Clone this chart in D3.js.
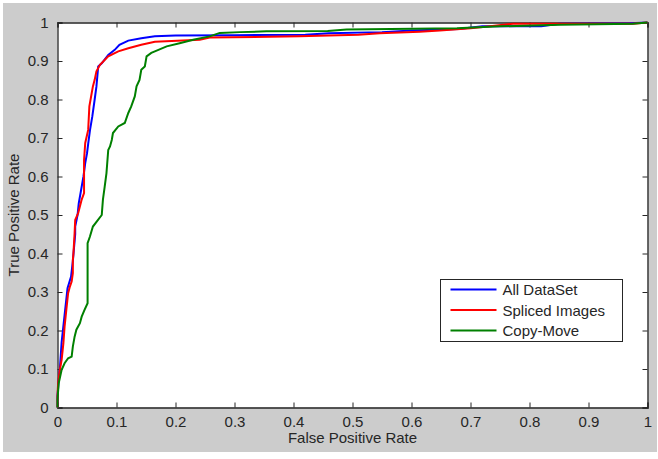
<!DOCTYPE html>
<html>
<head>
<meta charset="utf-8">
<script src="https://cdn.jsdelivr.net/npm/d3@7"></script>
<style>
  body { margin: 0; background: #fff; }
  text { font-family: "Liberation Sans", Arial, sans-serif; fill: #262626; }
</style>
</head>
<body>
<div id="chart"></div>
<script>
// ROC curves, [false positive rate, true positive rate]
const allDataSet = [[0,0],[0,0.03],[0.002,0.07],[0.004,0.1],[0.007,0.17],[0.012,0.24],[0.017,0.31],[0.023,0.34],
  [0.026,0.38],[0.03,0.45],[0.03,0.47],[0.034,0.5],[0.036,0.53],[0.04,0.565],[0.044,0.6],[0.047,0.635],[0.05,0.66],
  [0.052,0.685],[0.055,0.72],[0.059,0.756],[0.063,0.8],[0.066,0.834],[0.069,0.886],[0.075,0.894],[0.086,0.916],
  [0.097,0.929],[0.105,0.942],[0.12,0.953],[0.142,0.959],[0.165,0.964],[0.2,0.966],[0.3,0.967],[0.42,0.968],
  [0.46,0.972],[0.55,0.975],[0.6,0.979],[0.68,0.983],[0.72,0.99],[0.82,0.99],[0.85,0.997],[0.97,0.998],[1,1]];

const splicedImages = [[0,0],[0,0.03],[0.001,0.063],[0.004,0.098],[0.007,0.124],[0.01,0.167],[0.012,0.21],[0.015,0.254],
  [0.018,0.297],[0.021,0.314],[0.024,0.327],[0.026,0.349],[0.026,0.383],[0.027,0.4],[0.029,0.453],[0.03,0.487],
  [0.035,0.505],[0.041,0.54],[0.045,0.557],[0.045,0.643],[0.047,0.687],[0.052,0.721],[0.054,0.782],[0.058,0.817],
  [0.06,0.834],[0.063,0.851],[0.066,0.873],[0.072,0.89],[0.086,0.912],[0.103,0.925],[0.12,0.933],[0.142,0.942],
  [0.165,0.95],[0.241,0.955],[0.258,0.961],[0.41,0.964],[0.51,0.968],[0.546,0.972],[0.614,0.976],[0.648,0.979],
  [0.7,0.985],[0.733,0.99],[0.772,0.997],[0.975,0.997],[1,1]];

const copyMove = [[0,0],[0,0.02],[0.002,0.063],[0.007,0.098],[0.012,0.115],[0.018,0.128],[0.024,0.132],[0.026,0.158],
  [0.029,0.184],[0.032,0.202],[0.038,0.219],[0.041,0.236],[0.046,0.254],[0.051,0.271],[0.051,0.427],[0.055,0.444],
  [0.06,0.47],[0.069,0.488],[0.075,0.5],[0.077,0.54],[0.08,0.574],[0.083,0.609],[0.086,0.669],[0.089,0.678],
  [0.092,0.695],[0.094,0.713],[0.103,0.73],[0.114,0.739],[0.12,0.765],[0.125,0.782],[0.131,0.808],[0.134,0.834],
  [0.139,0.851],[0.142,0.877],[0.148,0.886],[0.151,0.912],[0.159,0.921],[0.165,0.925],[0.185,0.938],[0.207,0.946],
  [0.23,0.955],[0.258,0.964],[0.275,0.973],[0.309,0.975],[0.354,0.977],[0.458,0.978],[0.49,0.982],[0.677,0.985],
  [0.75,0.99],[0.852,0.994],[0.975,0.997],[1,1]];

const seriesNames = ["All DataSet", "Spliced Images", "Copy-Move"];
const seriesColors = ["#0000ff", "#ff0000", "#008000"];
const xTicks = [0, 0.1, 0.2, 0.3, 0.4, 0.5, 0.6, 0.7, 0.8, 0.9, 1];
const yTicks = [0, 0.1, 0.2, 0.3, 0.4, 0.5, 0.6, 0.7, 0.8, 0.9, 1];

const W = 658, H = 459;
const svg = d3.select("#chart").append("svg")
    .attr("width", W)
    .attr("height", H);

// figure background
svg.append("rect")
    .attr("x", 3).attr("y", 3)
    .attr("width", 654).attr("height", 449)
    .attr("fill", "#cccccc");

const margin = { top: 22.5, right: 10.5, bottom: 51.5, left: 57.5 },
    width = W - margin.left - margin.right,
    height = H - margin.top - margin.bottom;

const g = svg.append("g")
    .attr("transform", `translate(${margin.left},${margin.top})`);

const x = d3.scaleLinear().domain([0, 1]).range([0, width]);
const y = d3.scaleLinear().domain([0, 1]).range([height, 0]);

g.append("rect")
    .attr("width", width).attr("height", height)
    .attr("fill", "#fff");

const fmt = d => d === 0 || d === 1 ? String(d) : d3.format(".1f")(d);

// axes, ticks inward like matlab
const xAxis = g.append("g")
    .attr("transform", `translate(0,${height})`)
    .call(d3.axisBottom(x).tickValues(xTicks).tickSize(-5).tickPadding(9).tickFormat(fmt));
const yAxis = g.append("g")
    .call(d3.axisLeft(y).tickValues(yTicks).tickSize(-5).tickPadding(9).tickFormat(fmt));
g.append("g")
    .call(d3.axisTop(x).tickValues(xTicks).tickSize(-5).tickFormat(""));
g.append("g")
    .attr("transform", `translate(${width},0)`)
    .call(d3.axisRight(y).tickValues(yTicks).tickSize(-5).tickFormat(""));

g.selectAll(".domain").attr("stroke", "#262626").attr("stroke-width", 1.3);
g.selectAll(".tick line").attr("stroke", "#262626");
g.selectAll(".tick text")
    .style("font-family", "'Liberation Sans', Arial, sans-serif")
    .style("font-size", "15px")
    .attr("fill", "#262626");

// curves
const line = d3.line()
    .x(d => x(d[0]))
    .y(d => y(d[1]));

const series = [allDataSet, splicedImages, copyMove];
series.forEach((s, i) => {
    g.append("path")
        .datum(s)
        .attr("fill", "none")
        .attr("stroke", seriesColors[i])
        .attr("stroke-width", 2)
        .attr("stroke-linejoin", "miter")
        .attr("d", line);
});

// axis labels
svg.append("text")
    .attr("x", margin.left + width / 2)
    .attr("y", 443)
    .attr("text-anchor", "middle")
    .style("font-size", "15px")
    .text("False Positive Rate");

svg.append("text")
    .attr("transform", `translate(19,${margin.top + height / 2}) rotate(-90)`)
    .attr("text-anchor", "middle")
    .style("font-size", "15px")
    .text("True Positive Rate");

// legend
const legend = svg.append("g").attr("transform", "translate(440.5,279.5)");
legend.append("rect")
    .attr("width", 182).attr("height", 62)
    .attr("fill", "#fff")
    .attr("stroke", "#262626");

seriesNames.forEach((name, i) => {
    const ly = 10 + i * 20.5;
    legend.append("line")
        .attr("x1", 10).attr("x2", 56)
        .attr("y1", ly).attr("y2", ly)
        .attr("stroke", seriesColors[i])
        .attr("stroke-width", 2);
    legend.append("text")
        .attr("x", 62).attr("y", ly + 5.5)
        .style("font-size", "15px")
        .text(name);
});
</script>
</body>
</html>
